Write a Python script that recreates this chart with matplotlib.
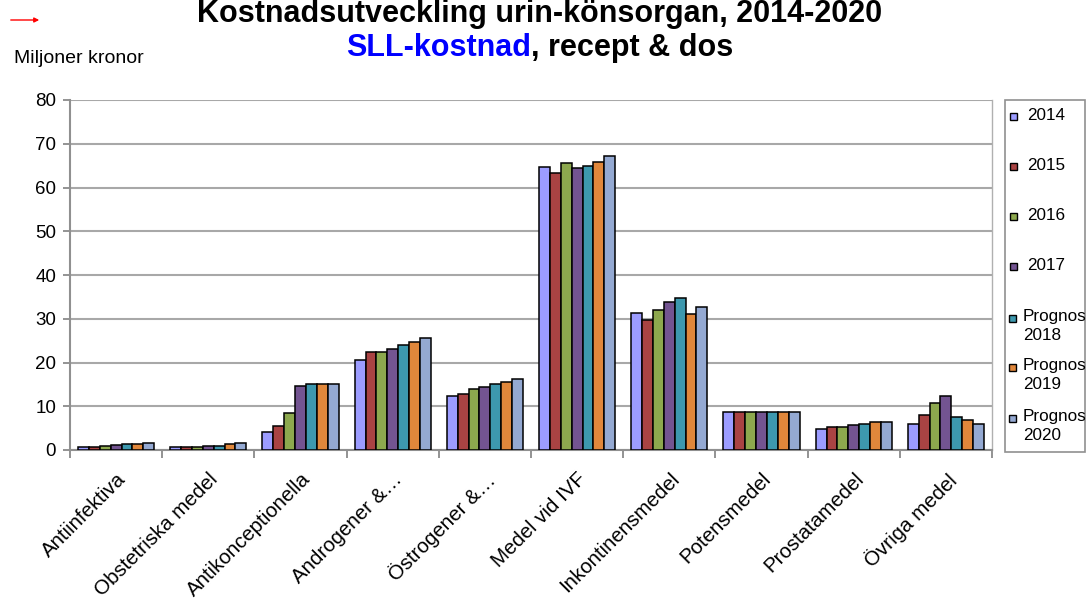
import matplotlib
matplotlib.use("Agg")
import matplotlib.pyplot as plt
import numpy as np
from matplotlib.patches import FancyArrowPatch, Rectangle

plt.rcParams['font.family'] = ['Liberation Sans', 'DejaVu Sans']

categories = ["Antiinfektiva", "Obstetriska medel", "Antikonceptionella",
              "Androgener &…", "Östrogener &…", "Medel vid IVF",
              "Inkontinensmedel", "Potensmedel", "Prostatamedel", "Övriga medel"]

series_labels = ["2014", "2015", "2016", "2017",
                 "Prognos\n2018", "Prognos\n2019", "Prognos\n2020"]

v2014 = [0.8, 0.6, 4.1, 20.6, 12.4, 64.8, 31.3, 8.8, 4.9, 6.0]
v2015 = [0.8, 0.6, 5.6, 22.3, 12.7, 63.3, 29.7, 8.6, 5.3, 8.0]
v2016 = [1.0, 0.8, 8.4, 22.3, 13.9, 65.6, 32.0, 8.8, 5.3, 10.8]
v2017 = [1.2, 1.0, 14.7, 23.1, 14.4, 64.4, 33.9, 8.6, 5.7, 12.4]
v2018 = [1.3, 1.0, 15.0, 24.0, 15.1, 65.0, 34.8, 8.6, 6.0, 7.6]
v2019 = [1.3, 1.3, 15.0, 24.8, 15.6, 65.9, 31.2, 8.6, 6.3, 6.9]
v2020 = [1.6, 1.5, 15.0, 25.6, 16.3, 67.2, 32.7, 8.6, 6.5, 6.0]

series_values = [v2014, v2015, v2016, v2017, v2018, v2019, v2020]
colors = ["#9C9CFF", "#A94343", "#8DA84E", "#735491", "#3D98AE", "#E0873B", "#94A9D2"]

W, H = 1088, 599
fig = plt.figure(figsize=(W / 100, H / 100), dpi=100)
ax = fig.add_axes([70 / W, 1 - 450 / H, 922 / W, 350 / H])


def fx(px):
    return px / W


def fy(py):
    return 1 - py / H


n = len(series_values)
x = np.arange(len(categories))
bw = 0.118
for i, (vals, c, lab) in enumerate(zip(series_values, colors, series_labels)):
    offs = (i - (n - 1) / 2) * bw
    ax.bar(x + offs, vals, width=bw, color=c, edgecolor="black",
           linewidth=1.1, label=lab, zorder=3)

ax.set_xlim(-0.5, len(categories) - 0.5)
ax.set_ylim(0, 80)
ax.set_yticks(range(0, 81, 10))
ax.tick_params(axis='y', labelsize=13.5, length=5, color="#808080", width=1.2, pad=5)
ax.yaxis.grid(True, color="#A8A8A8", linewidth=1.5, zorder=0)

ax.set_xticks(x)
ax.set_xticklabels(categories, rotation=45, ha='right', rotation_mode='anchor',
                   fontsize=14.8)
ax.tick_params(axis='x', length=0, pad=14)
ax.set_xticks(np.arange(-0.5, len(categories), 1.0), minor=True)
ax.tick_params(axis='x', which='minor', length=6, color="#808080", width=1.2)

for side in ['left', 'bottom']:
    ax.spines[side].set_color("#909090")
    ax.spines[side].set_linewidth(1.5)
ax.spines['top'].set_visible(False)
ax.spines['right'].set_color("#B0B0B0")
ax.spines['right'].set_linewidth(1.0)

# Legend box drawn in figure pixels
fig.patches.append(Rectangle((fx(1005), fy(452)), fx(1085) - fx(1005), fy(100) - fy(452),
                             transform=fig.transFigure, facecolor="white",
                             edgecolor="#909090", linewidth=1.2))
entry_y = [116, 166, 216, 266, 318, 367, 418]
for lab, c, yy in zip(series_labels, colors, entry_y):
    two_line = "\n" in lab
    sq_x = 1009 if two_line else 1010
    fig.patches.append(Rectangle((fx(sq_x), fy(yy + 3.5)), fx(7), 7 / H,
                                 transform=fig.transFigure, facecolor=c,
                                 edgecolor="black", linewidth=1.0))
    if two_line:
        fig.text(fx(1023), fy(yy - 9), lab, ha='left', va='top', fontsize=12.3,
                 linespacing=1.3, multialignment='left')
    else:
        fig.text(fx(1027), fy(yy), lab, ha='left', va='center', fontsize=12.3)

# Title lines
fig.text(fx(540), fy(22), "Kostnadsutveckling urin-könsorgan, 2014-2020",
         ha='center', va='baseline', fontsize=22, fontweight='bold')

fig.canvas.draw()
r = fig.canvas.get_renderer()
part1 = "SLL-kostnad"
part2 = ", recept & dos"
t1 = fig.text(0, fy(56), part1, ha='left', va='baseline', fontsize=22,
              fontweight='bold', color="#0000FF")
t2 = fig.text(0, fy(56), part2, ha='left', va='baseline', fontsize=22,
              fontweight='bold', color="black")
w1 = t1.get_window_extent(r).width
w2 = t2.get_window_extent(r).width
start = 540 - (w1 + w2) / 2
t1.set_x(fx(start))
t2.set_x(fx(start + w1))

fig.text(fx(14), fy(63), "Miljoner kronor", ha='left', va='baseline', fontsize=14)

arrow = FancyArrowPatch((fx(8), fy(20)), (fx(42), fy(20)),
                        transform=fig.transFigure, arrowstyle='-|>',
                        mutation_scale=7, color="#FF0000", linewidth=1.0)
fig.patches.append(arrow)

fig.savefig("out.png", dpi=100)
